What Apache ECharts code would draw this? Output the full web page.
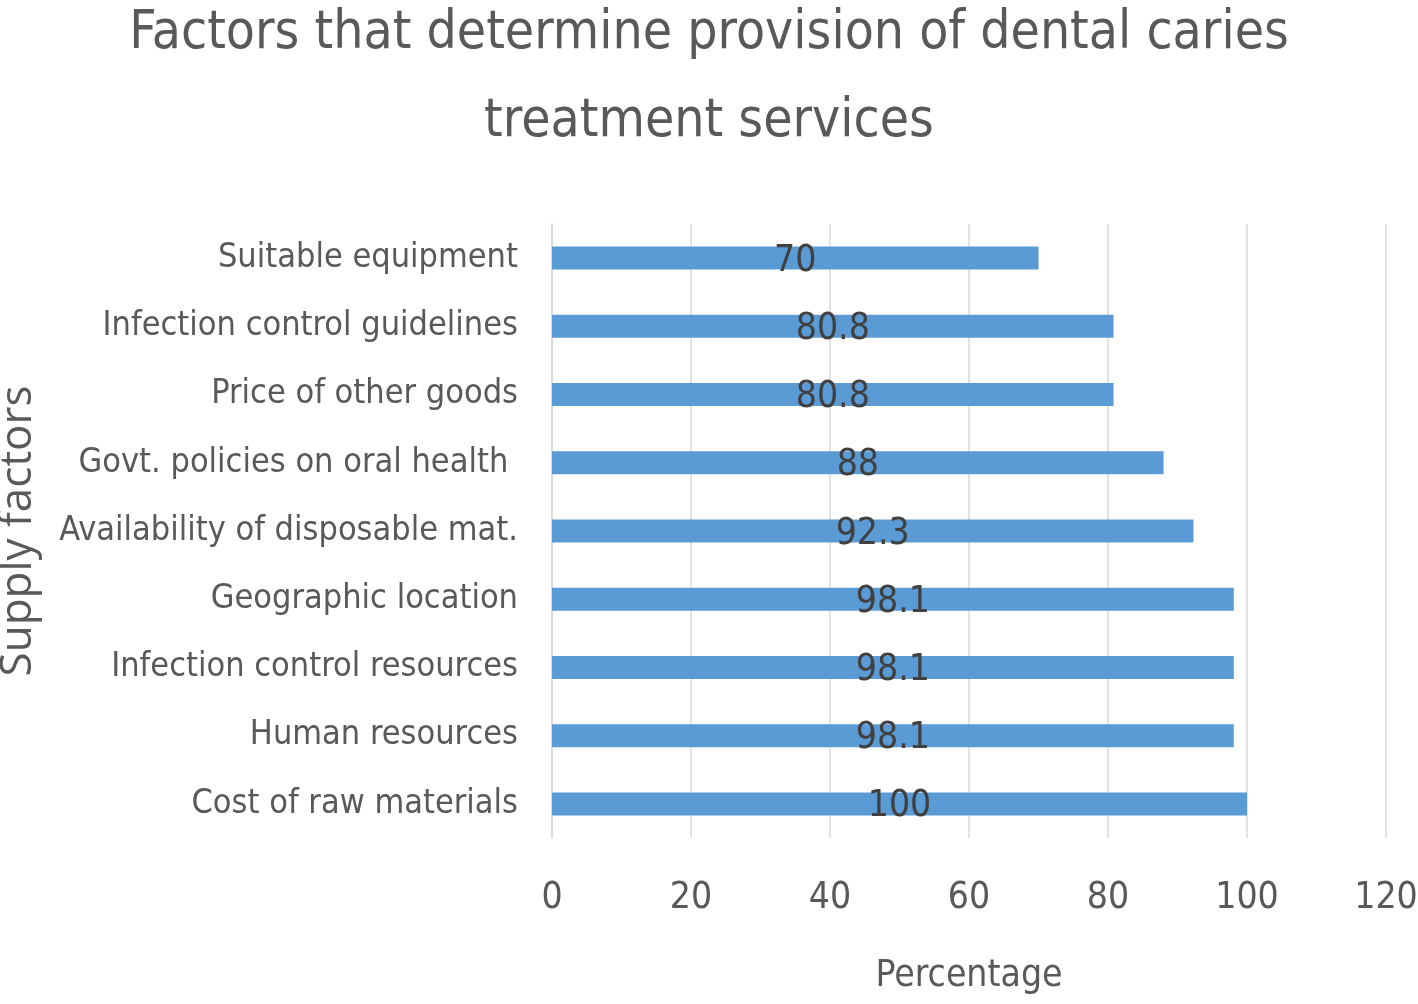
<!DOCTYPE html>
<html>
<head>
<meta charset="utf-8">
<script src="https://cdn.jsdelivr.net/npm/echarts@6/dist/echarts.min.js"></script>
<style>
html,body{margin:0;padding:0;background:#fff;}
#chart{width:1418px;height:1004px;}
</style>
</head>
<body>
<div id="chart"></div>
<script>
const categories = [
  "Cost of raw materials",
  "Human resources",
  "Infection control resources",
  "Geographic location",
  "Availability of disposable mat.",
  "Govt. policies on oral health ",
  "Price of other goods",
  "Infection control guidelines",
  "Suitable equipment"
];
const values = [100, 98.1, 98.1, 98.1, 92.3, 88, 80.8, 80.8, 70];
const xTicks = [0, 20, 40, 60, 80, 100, 120];

const FONT = '"Liberation Sans Narrow", "DejaVu Sans Condensed", sans-serif';
const TXT = '#595959';

const chart = echarts.init(document.getElementById('chart'), null, {renderer: 'canvas'});
chart.setOption({
  backgroundColor: '#ffffff',
  animation: false,
  title: {
    text: 'Factors that determine provision of dental caries\ntreatment services',
    left: 'center',
    top: -15,
    textStyle: {
      fontFamily: FONT,
      fontWeight: 'normal',
      fontSize: 53,
      lineHeight: 88,
      color: TXT
    }
  },
  grid: {left: 552, right: 32, top: 224, bottom: 166, containLabel: false, outerBoundsMode: 'none'},
  xAxis: {
    type: 'value',
    min: xTicks[0],
    max: xTicks[xTicks.length - 1],
    interval: 20,
    name: 'Percentage',
    nameLocation: 'middle',
    nameGap: 120,
    nameTextStyle: {fontFamily: FONT, fontSize: 37, color: TXT},
    axisLine: {show: false},
    axisTick: {show: false},
    axisLabel: {fontFamily: FONT, fontSize: 37, color: TXT, margin: 42},
    splitLine: {show: true, lineStyle: {color: '#D9D9D9', width: 1.5}}
  },
  yAxis: {
    type: 'category',
    data: categories,
    name: 'Supply factors',
    nameLocation: 'middle',
    nameGap: 512,
    nameRotate: 90,
    nameTextStyle: {fontFamily: '"Open Sans", "DejaVu Sans", sans-serif', fontSize: 44, color: TXT},
    axisLine: {show: true, lineStyle: {color: '#D9D9D9', width: 1.5}},
    axisTick: {show: false},
    axisLabel: {fontFamily: FONT, fontSize: 34, color: TXT, margin: 34}
  },
  series: [{
    type: 'bar',
    data: values,
    barWidth: 23,
    itemStyle: {color: '#5B9BD5'},
    label: {
      show: true,
      position: 'inside',
      offset: [0, 3],
      fontFamily: FONT,
      fontSize: 37,
      color: '#404040'
    }
  }]
});
</script>
</body>
</html>
